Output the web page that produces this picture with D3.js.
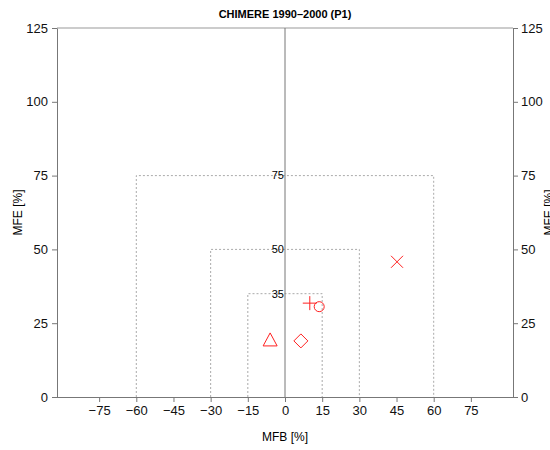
<!DOCTYPE html>
<html>
<head>
<meta charset="utf-8">
<script src="https://cdn.jsdelivr.net/npm/d3@7"></script>
<style>
  body { margin: 0; background: #fff; }
  svg text { font-family: "Liberation Sans", Arial, sans-serif; }
</style>
</head>
<body>
<svg class="chart" width="550" height="450"></svg>
<script>
// goal / criteria boxes (MFB half width, MFE level)
var goalLevels = [75, 50, 35];
var goalBias = [60, 30, 15];

// model points
var mfb = [10, 13.8, -6, 6.4, 45.2];
var mfe = [31.8, 30.6, 19, 19, 45.8];
var shapes = ["plus", "circle", "triangle", "diamond", "cross"];

var xTicks = [-75, -60, -45, -30, -15, 0, 15, 30, 45, 60, 75];
var yTicks = [0, 25, 50, 75, 100, 125];

var plotLeft = 57, plotRight = 513, plotTop = 28, plotBottom = 397;

var x = d3.scaleLinear().domain([-92, 92]).range([plotLeft, plotRight]);
var y = d3.scaleLinear().domain([0, 125]).range([plotBottom, plotTop]);

var svg = d3.select(".chart");
var fmt = function(d) { return d < 0 ? "\u2212" + Math.abs(d) : d; };

// title
svg.append("text")
    .attr("x", x(0)).attr("y", 18)
    .attr("text-anchor", "middle")
    .attr("font-size", "11px").attr("font-weight", "bold")
    .text("CHIMERE 1990\u20132000 (P1)");

// top border
svg.append("line")
    .attr("x1", plotLeft).attr("x2", plotRight)
    .attr("y1", plotTop).attr("y2", plotTop)
    .style("stroke", "#999");

// dotted goal boxes
for (var i = 0; i < goalLevels.length; i++) {
    svg.append("path")
        .attr("d", "M" + x(-goalBias[i]) + "," + y(0) +
                   "V" + y(goalLevels[i]) +
                   "H" + x(goalBias[i]) +
                   "V" + y(0))
        .style("fill", "none")
        .style("stroke", "#aaa")
        .style("stroke-dasharray", "2,2");
    svg.append("text")
        .attr("x", x(0) - 1).attr("y", y(goalLevels[i]))
        .attr("dy", "0.35em")
        .attr("text-anchor", "end")
        .attr("font-size", "11px")
        .text(goalLevels[i]);
}

// zero line
svg.append("line")
    .attr("x1", x(0)).attr("x2", x(0))
    .attr("y1", plotTop).attr("y2", plotBottom)
    .style("stroke", "#777");

// axes
var xAxis = d3.axisBottom(x).tickValues(xTicks).tickFormat(fmt).tickSize(5).tickSizeOuter(0);
var gx = svg.append("g")
    .attr("transform", "translate(0," + plotBottom + ")")
    .call(xAxis);

var gl = svg.append("g")
    .attr("transform", "translate(" + plotLeft + ",0)")
    .call(d3.axisLeft(y).tickValues(yTicks).tickSize(5).tickSizeOuter(0));

var gr = svg.append("g")
    .attr("transform", "translate(" + plotRight + ",0)")
    .call(d3.axisRight(y).tickValues(yTicks).tickSize(5).tickSizeOuter(0));

[gx, gl, gr].forEach(function(g) {
    g.selectAll("path, line").style("stroke", "#777");
    g.selectAll("text").attr("font-size", "13px").style("fill", "#111")
        .style("font-family", "'Liberation Sans', Arial, sans-serif");
});
gx.select(".domain").attr("d", "M" + (plotLeft - 5) + ",0.5H" + (plotRight + 5));
gl.selectAll("text").attr("x", -9);
gr.selectAll("text").attr("x", 8);
gx.selectAll("text").attr("y", 9);

// axis titles
svg.append("text")
    .attr("x", x(0)).attr("y", 441)
    .attr("text-anchor", "middle").attr("font-size", "12px")
    .text("MFB [%]");
svg.append("text")
    .attr("transform", "translate(22," + y(62.5) + ") rotate(-90)")
    .attr("text-anchor", "middle").attr("font-size", "12px")
    .text("MFE [%]");
svg.append("text")
    .attr("transform", "translate(553," + y(62.5) + ") rotate(-90)")
    .attr("text-anchor", "middle").attr("font-size", "12px")
    .text("MFE [%]");

// markers
var symPath = {
    plus: "M-7,0H7M0,-7V7",
    cross: "M-6,-6L6,6M-6,6L6,-6",
    triangle: "M0,-8L7,5H-7Z",
    diamond: "M0,-7L7,0L0,7L-7,0Z"
};
var pts = mfb.map(function(d, i) { return [d, mfe[i], shapes[i]]; });
svg.selectAll(".pt")
    .data(pts)
    .enter().append("path")
    .attr("class", "pt")
    .attr("transform", function(d) { return "translate(" + x(d[0]) + "," + y(d[1]) + ")"; })
    .attr("d", function(d) {
        if (d[2] == "circle") return "M5,0A5,5 0 1,1 -5,0A5,5 0 1,1 5,0Z";
        return symPath[d[2]];
    })
    .style("fill", "none")
    .style("stroke", "#ff2020")
    .style("stroke-width", "1");
</script>
</body>
</html>
